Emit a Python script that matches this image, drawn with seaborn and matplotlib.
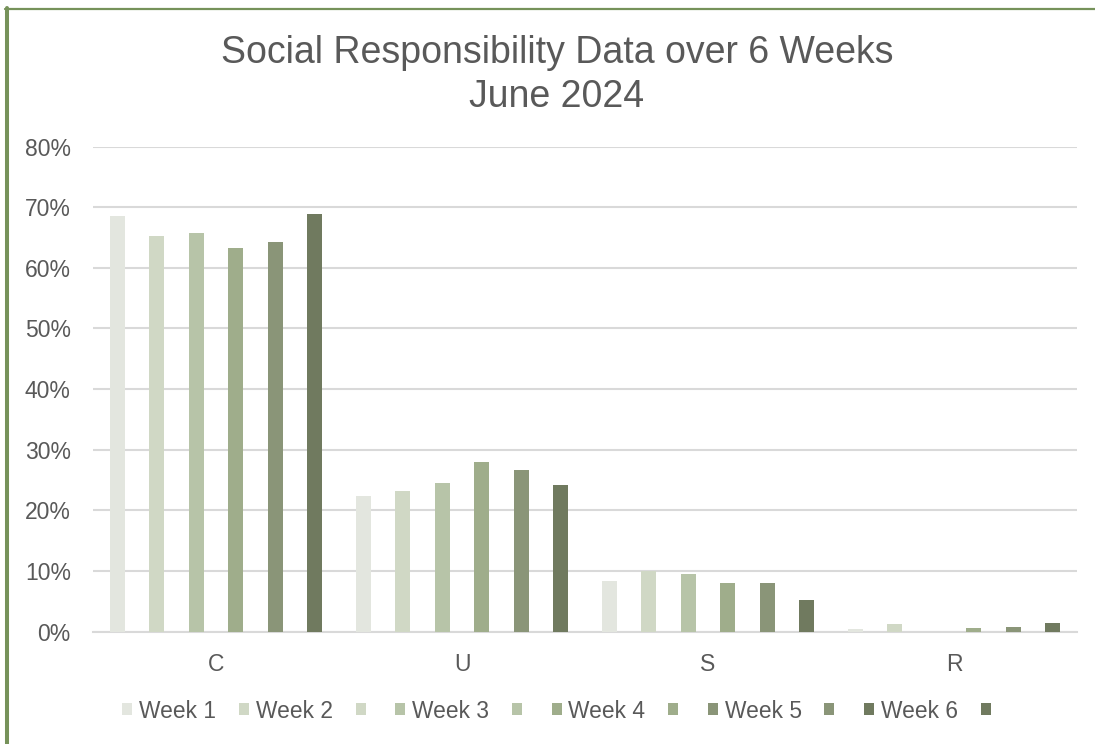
import pandas as pd
import matplotlib.pyplot as plt
import seaborn as sns
from matplotlib.lines import Line2D
from matplotlib.patches import Patch
from matplotlib.ticker import FuncFormatter

# values (fractions)
categories = ['C', 'U', 'S', 'R']
weeks = ['Week 1', 'Week 2', 'Week 3', 'Week 4', 'Week 5', 'Week 6']
week1 = [0.686, 0.223, 0.083, 0.005]
week2 = [0.652, 0.232, 0.100, 0.012]
week3 = [0.658, 0.245, 0.095, 0.0]
week4 = [0.632, 0.279, 0.080, 0.006]
week5 = [0.643, 0.266, 0.081, 0.007]
week6 = [0.688, 0.242, 0.053, 0.0145]
colors = ['#e3e6df', '#d0d8c5', '#b7c4a8', '#9fad8b', '#8a9578', '#707a5f']

text_col = '#595959'
grid_col = '#d9d9d9'

rows = []
for wk, vals in zip(weeks, [week1, week2, week3, week4, week5, week6]):
    for cat, v in zip(categories, vals):
        rows.append({'cat': cat, 'week': wk, 'value': v})
df = pd.DataFrame(rows)

sns.set_theme(style='white')
plt.rcParams['font.family'] = ['Liberation Sans', 'DejaVu Sans']

fig = plt.figure(figsize=(10.95, 7.44), dpi=100)
ax = fig.add_axes([93 / 1095, 1 - 631.7 / 744, 984 / 1095, 485.2 / 744])

sns.barplot(data=df, x='cat', y='value', hue='week', order=categories,
            hue_order=weeks, palette=colors, width=0.96, gap=0.62,
            linewidth=0, saturation=1, ax=ax, legend=False, zorder=3)

ax.set_ylim(0, 0.8)
ax.set_yticks([i / 10 for i in range(9)])
ax.yaxis.set_major_formatter(FuncFormatter(lambda v, p: f'{v:.0%}'))
ax.set_xlabel('')
ax.set_ylabel('')
ax.grid(axis='y', color=grid_col, linewidth=1.5, zorder=0)
ax.set_axisbelow(True)
for s in ['top', 'right', 'left']:
    ax.spines[s].set_visible(False)
ax.spines['bottom'].set_color(grid_col)
ax.spines['bottom'].set_linewidth(1.5)
ax.tick_params(axis='y', length=0, pad=16, labelsize=16.5, labelcolor=text_col)
ax.tick_params(axis='x', length=0, pad=15, labelsize=16.5, labelcolor=text_col)

# title
fig.text(557 / 1095, 1 - 75 / 744,
         'Social Responsibility Data over 6 Weeks\nJune 2024',
         ha='center', va='center', fontsize=27, color=text_col,
         linespacing=1.28)

# legend: labelled entry followed by an unlabelled square, as in the source
handles, labels = [], []
for i, (wk, c) in enumerate(zip(weeks, colors)):
    handles.append(Patch(facecolor=c, edgecolor='none'))
    labels.append(wk)
    if i > 0:
        handles.append(Patch(facecolor=c, edgecolor='none'))
        labels.append('')
fig.legend(handles, labels, loc='center', bbox_to_anchor=(560 / 1095, 1 - 711 / 744),
           ncol=len(handles), frameon=False, fontsize=16.4, labelcolor=text_col,
           handlelength=0.44, handleheight=0.44, handletextpad=0.3,
           columnspacing=1.0, borderpad=0)

# green frame lines on left and top edge
fig.add_artist(Line2D([7 / 1095, 7 / 1095], [0, 1 - 8 / 744],
                      transform=fig.transFigure, color='#76925a', linewidth=2.9))
fig.add_artist(Line2D([5 / 1095, 1], [1 - 9 / 744, 1 - 9 / 744],
                      transform=fig.transFigure, color='#76925a', linewidth=1.6))

fig.savefig('out.png', dpi=100, facecolor='white')
